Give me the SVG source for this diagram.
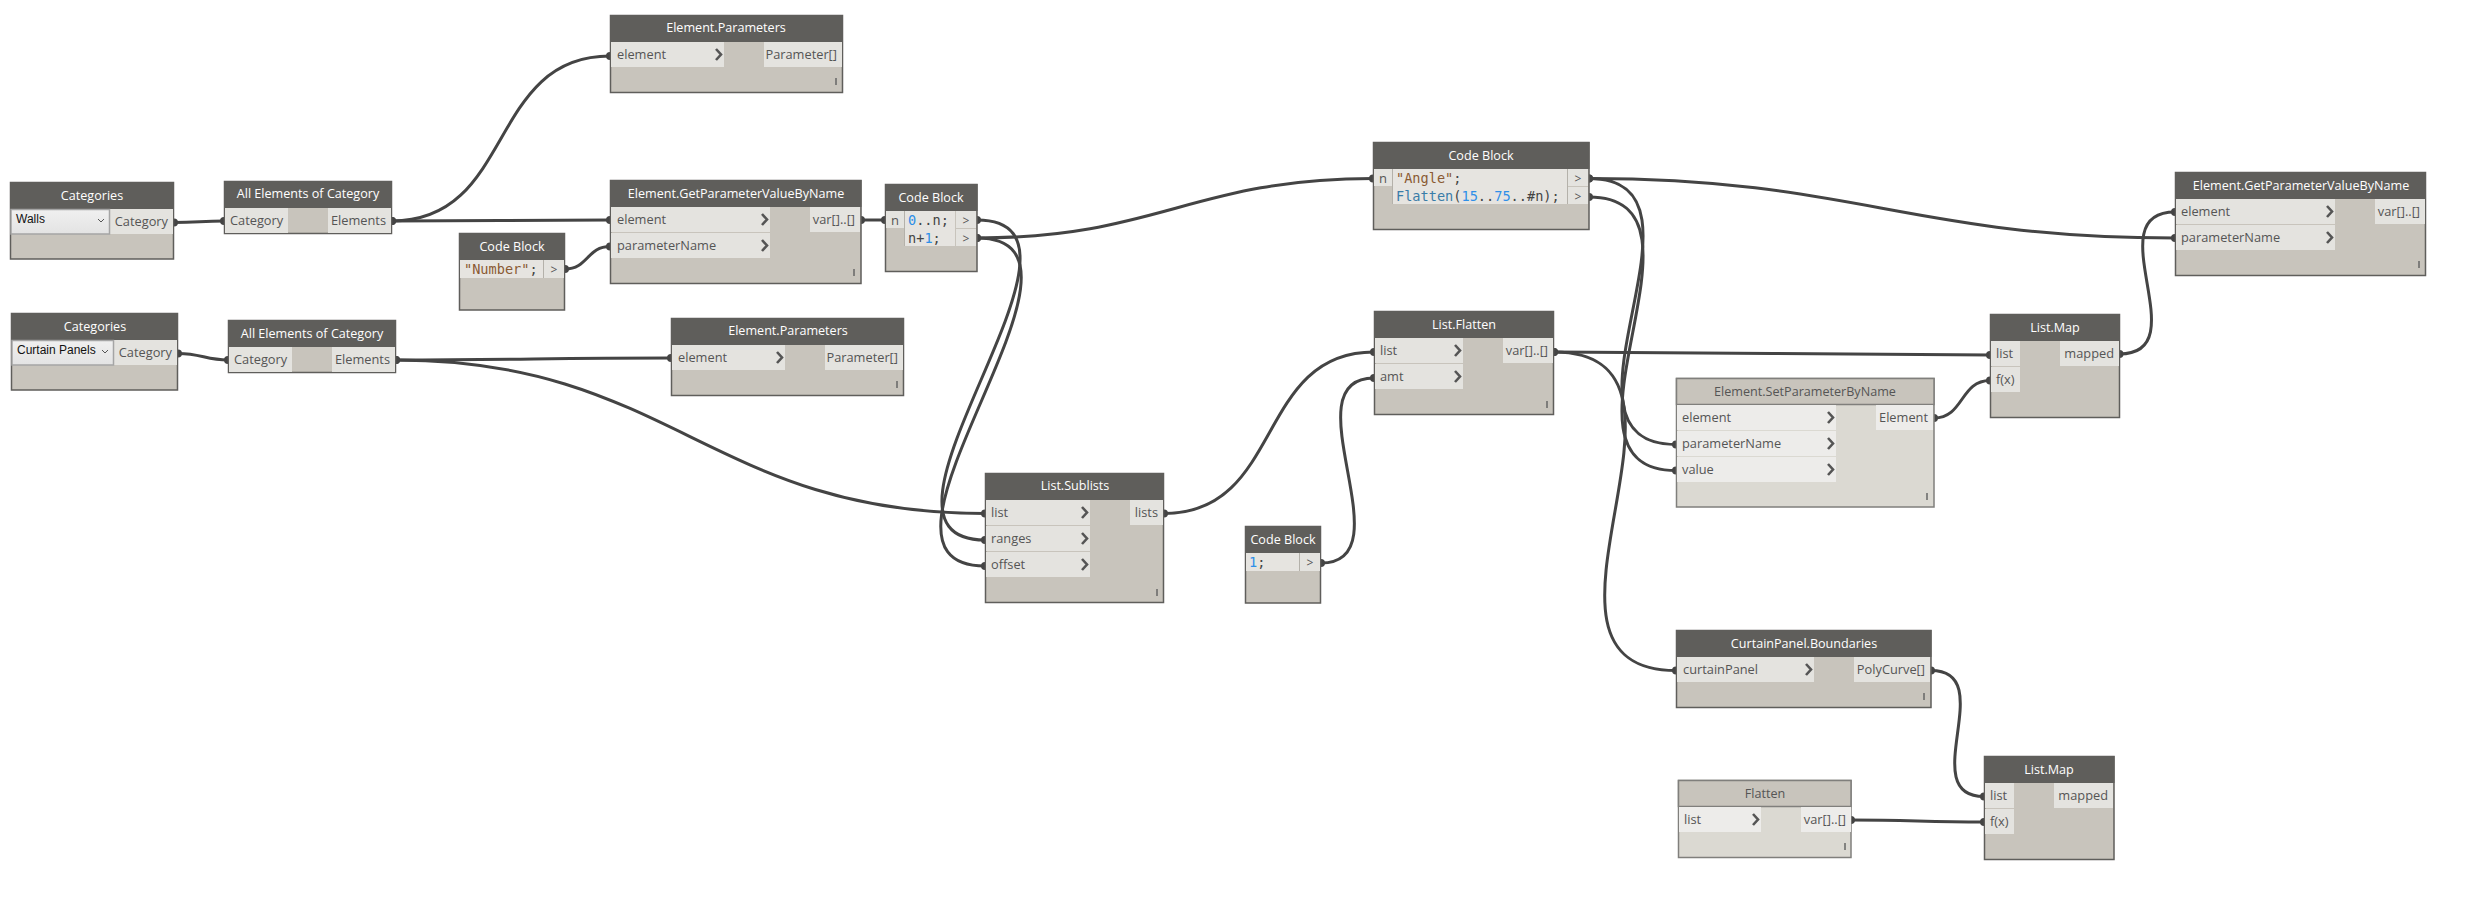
<svg xmlns="http://www.w3.org/2000/svg" width="2488" height="898" viewBox="0 0 2488 898">
<style>
text{font-family:"Open Sans","Noto Sans","Liberation Sans",sans-serif;font-size:12.8px;fill:#555}
.b{fill:#c8c4bc;stroke:#5f5e5b;stroke-width:1.5}
.bf{fill:#dbd9d2;stroke:#807f7c;stroke-width:1.5}
.h{fill:#5f5e5b}
.hf{fill:#c8c4bc;stroke:#807f7c;stroke-width:1.5}
text.t{fill:#fff;text-anchor:middle;font-weight:500;font-size:12.6px}
text.tf{fill:#555;text-anchor:middle;font-weight:500;font-size:12.6px}
.p{fill:#e4e3df}
.pf{fill:#edecea}
.cd{fill:#e6e4e0}
.m{stroke:#666;stroke-width:1.5;fill:none}
.ch{stroke:#555;stroke-width:2.6;fill:none}
.sep{stroke:#b4b1aa;stroke-width:1;fill:none}
text.c{font-family:"DejaVu Sans Mono","Liberation Mono",monospace;font-size:13.6px;fill:#444}
.s{fill:#8a5a33}.n{fill:#2f8fe8}.f{fill:#3a7ca8}
.w{fill:none;stroke:#444;stroke-width:3;marker-start:url(#dot);marker-end:url(#dot)}
.o{text-anchor:end}
text.g{text-anchor:middle;font-size:12px}
.dd{fill:url(#dg);stroke:#a5a5a5;stroke-width:1.5}
text.v{fill:#111;font-family:"Liberation Sans",sans-serif;font-size:12px}
</style>
<defs>
<marker id="dot" markerUnits="userSpaceOnUse" markerWidth="10" markerHeight="10" refX="5" refY="5"><circle cx="5" cy="5" r="4" fill="#444"/></marker>
<linearGradient id="dg" x1="0" y1="0" x2="0" y2="1"><stop offset="0" stop-color="#f0f0f0"/><stop offset="1" stop-color="#e3e3e3"/></linearGradient>
</defs>
<g id="connectors">
<path class="w" d="M174,222.5 C197,222.5 202,221 224,221"/>
<path class="w" d="M392,221 C515,221 487,56 610,56"/>
<path class="w" d="M392,221 C490,221 512,220 610,220"/>
<path class="w" d="M565,269 C588,269 587,246.5 610,246.5"/>
<path class="w" d="M861,220 L885,220"/>
<path class="w" d="M178,353.5 C201,353.5 206,360 228,360"/>
<path class="w" d="M396,360 C520,360 547,358 671,358"/>
<path class="w" d="M396,360 C670,360 710,513.5 985,513.5"/>
<path class="w" d="M977,220 C1123,220 839,540 985,540"/>
<path class="w" d="M977,238 C1127,238 835,566 985,566"/>
<path class="w" d="M977,238 C1158,238 1193,178.5 1373,178.5"/>
<path class="w" d="M1164,513.5 C1284,513.5 1255,352 1374,352"/>
<path class="w" d="M1321,563 C1408,563 1287,378 1374,378"/>
<path class="w" d="M1589,178.5 C1854,178.5 1910,238 2175,238"/>
<path class="w" d="M1589,178.5 C1729,178.5 1536,444.5 1676,444.5"/>
<path class="w" d="M1589,197 C1729,197 1536,470.5 1676,470.5"/>
<path class="w" d="M1554,352 C1750,352 1794,355 1990,355"/>
<path class="w" d="M1554,352 C1732,352 1498,670.5 1676,670.5"/>
<path class="w" d="M1934,418 C1964,418 1960,380.5 1990,380.5"/>
<path class="w" d="M2119.5,354 C2199,354 2095,212 2175,212"/>
<path class="w" d="M1931,670.5 C2001,670.5 1914,796.5 1984,796.5"/>
<path class="w" d="M1851,820 C1911,820 1924,822 1984,822"/>
</g>
<g id="categories-walls">
<rect class="b" x="10.5" y="182.5" width="163" height="76.5"/><rect class="h" x="10" y="182" width="164" height="27"/>
<text class="t" x="92" y="200">Categories</text>
<rect class="p" x="110" y="209" width="63" height="25"/><rect class="dd" x="11" y="209.5" width="98.5" height="24.5"/>
<text class="v" x="16" y="223">Walls</text><path class="sep" style="stroke:#555" d="M98,219 l3,3 l3,-3"/>
<text class="o" x="168" y="226">Category</text>
</g>
<g id="all-elements-walls">
<rect class="b" x="224.5" y="181.5" width="167" height="52"/><rect class="h" x="224" y="181" width="168" height="27"/>
<text class="t" x="308" y="198">All Elements of Category</text>
<rect class="p" x="225" y="208" width="63" height="25"/><rect class="p" x="328" y="208" width="63" height="25"/>
<text x="230" y="225">Category</text><text class="o" x="386" y="225">Elements</text>
</g>
<g id="categories-curtain">
<rect class="b" x="11.5" y="313.5" width="166" height="76.5"/><rect class="h" x="11" y="313" width="167" height="27"/>
<text class="t" x="95" y="331">Categories</text>
<rect class="p" x="114" y="340" width="63" height="25"/><rect class="dd" x="12" y="340.5" width="101.5" height="24.5"/>
<text class="v" x="17" y="354">Curtain Panels</text><path class="sep" style="stroke:#555" d="M102,350 l3,3 l3,-3"/>
<text class="o" x="172" y="357">Category</text>
</g>
<g id="all-elements-curtain">
<rect class="b" x="228.5" y="320.5" width="167" height="52"/><rect class="h" x="228" y="320" width="168" height="27"/>
<text class="t" x="312" y="338">All Elements of Category</text>
<rect class="p" x="229" y="347" width="63" height="25"/><rect class="p" x="332" y="347" width="63" height="25"/>
<text x="234" y="364">Category</text><text class="o" x="390" y="364">Elements</text>
</g>
<g id="element-parameters-1">
<rect class="b" x="610.5" y="15.5" width="232" height="77"/><rect class="h" x="610" y="15" width="233" height="27"/>
<text class="t" x="726" y="32">Element.Parameters</text>
<rect class="p" x="611" y="42" width="113" height="25"/><rect class="p" x="764" y="42" width="78" height="25"/>
<text x="617" y="59">element</text><path class="ch" d="M716,49 l5,5.5 l-5,5.5"/><text class="o" x="837" y="59">Parameter[]</text>
<path class="m" d="M836,78 v7"/>
</g>
<g id="get-parameter-1">
<rect class="b" x="610.5" y="180.5" width="250.5" height="103"/><rect class="h" x="610" y="180" width="251.5" height="27"/>
<text class="t" x="736" y="198">Element.GetParameterValueByName</text>
<rect class="p" x="611" y="207" width="159" height="25"/><rect class="p" x="611" y="233" width="159" height="25"/><rect class="p" x="810" y="207" width="50" height="25"/>
<text x="617" y="224">element</text><path class="ch" d="M762,214 l5,5.5 l-5,5.5"/>
<text x="617" y="250">parameterName</text><path class="ch" d="M762,240 l5,5.5 l-5,5.5"/>
<text class="o" x="855" y="224">var[]..[]</text>
<path class="m" d="M854,269 v7"/>
</g>
<g id="code-number">
<rect class="b" x="459.5" y="233.5" width="105" height="76.5"/><rect class="h" x="459" y="233" width="106" height="27"/>
<text class="t" x="512" y="251">Code Block</text>
<rect class="cd" x="460" y="260" width="83" height="18"/><rect class="p" x="544" y="260" width="20" height="18"/>
<path class="sep" d="M543.5,260 v18"/>
<text class="c" x="464" y="274"><tspan class="s">"Number"</tspan>;</text><text class="g" x="554" y="274">&gt;</text>
</g>
<g id="code-range">
<rect class="b" x="885.5" y="184.5" width="91.5" height="87"/><rect class="h" x="885" y="184" width="92.5" height="27"/>
<text class="t" x="931" y="202">Code Block</text>
<rect class="p" x="886" y="211" width="18" height="17"/><rect class="cd" x="905" y="211" width="50" height="35"/>
<rect class="p" x="956" y="211" width="20" height="17"/><rect class="p" x="956" y="229" width="20" height="17"/>
<path class="sep" d="M904.5,211 v35"/>
<text class="g" x="895" y="225" style="font-size:13px">n</text>
<text class="c" x="908" y="225"><tspan class="n">0</tspan>..n;</text>
<text class="c" x="908" y="243">n+<tspan class="n">1</tspan>;</text>
<text class="g" x="966" y="225">&gt;</text><text class="g" x="966" y="243">&gt;</text>
</g>
<g id="element-parameters-2">
<rect class="b" x="671.5" y="318.5" width="232" height="77"/><rect class="h" x="671" y="318" width="233" height="27"/>
<text class="t" x="788" y="335">Element.Parameters</text>
<rect class="p" x="672" y="345" width="113" height="25"/><rect class="p" x="825" y="345" width="78" height="25"/>
<text x="678" y="362">element</text><path class="ch" d="M777,352 l5,5.5 l-5,5.5"/><text class="o" x="898" y="362">Parameter[]</text>
<path class="m" d="M897,381 v7"/>
</g>
<g id="list-sublists">
<rect class="b" x="985.5" y="473.5" width="178" height="129"/><rect class="h" x="985" y="473" width="179" height="27"/>
<text class="t" x="1075" y="490">List.Sublists</text>
<rect class="p" x="986" y="500" width="104" height="25"/><rect class="p" x="986" y="526" width="104" height="25"/><rect class="p" x="986" y="552" width="104" height="25"/><rect class="p" x="1130" y="500" width="33" height="25"/>
<text x="991" y="517">list</text><path class="ch" d="M1082,507 l5,5.5 l-5,5.5"/>
<text x="991" y="543">ranges</text><path class="ch" d="M1082,533 l5,5.5 l-5,5.5"/>
<text x="991" y="569">offset</text><path class="ch" d="M1082,559 l5,5.5 l-5,5.5"/>
<text class="o" x="1158" y="517">lists</text>
<path class="m" d="M1157,589 v7"/>
</g>
<g id="code-one">
<rect class="b" x="1245.5" y="526.5" width="75" height="76.5"/><rect class="h" x="1245" y="526" width="76" height="27"/>
<text class="t" x="1283" y="544">Code Block</text>
<rect class="cd" x="1246" y="553" width="53" height="18"/><rect class="p" x="1300" y="553" width="20" height="18"/>
<path class="sep" d="M1299.5,553 v18"/>
<text class="c" x="1249" y="567"><tspan class="n">1</tspan>;</text><text class="g" x="1310" y="567">&gt;</text>
</g>
<g id="code-flatten">
<rect class="b" x="1373.5" y="142.5" width="215.5" height="87"/><rect class="h" x="1373" y="142" width="216.5" height="27"/>
<text class="t" x="1481" y="160">Code Block</text>
<rect class="p" x="1374" y="169" width="18" height="17"/><rect class="cd" x="1393" y="169" width="174" height="35"/>
<rect class="p" x="1568" y="169" width="20" height="17"/><rect class="p" x="1568" y="187" width="20" height="17"/>
<path class="sep" d="M1392.5,169 v35 M1567.5,169 v35"/>
<text class="g" x="1383" y="183" style="font-size:13px">n</text>
<text class="c" x="1396" y="183"><tspan class="s">"Angle"</tspan>;</text>
<text class="c" x="1396" y="201"><tspan class="f">Flatten</tspan>(<tspan class="n">15</tspan>..<tspan class="n">75</tspan>..#n);</text>
<text class="g" x="1578" y="183">&gt;</text><text class="g" x="1578" y="201">&gt;</text>
</g>
<g id="list-flatten">
<rect class="b" x="1374.5" y="311.5" width="179" height="103"/><rect class="h" x="1374" y="311" width="180" height="27"/>
<text class="t" x="1464" y="329">List.Flatten</text>
<rect class="p" x="1375" y="338" width="88" height="25"/><rect class="p" x="1375" y="364" width="88" height="25"/><rect class="p" x="1503" y="338" width="50" height="25"/>
<text x="1380" y="355">list</text><path class="ch" d="M1455,345 l5,5.5 l-5,5.5"/>
<text x="1380" y="381">amt</text><path class="ch" d="M1455,371 l5,5.5 l-5,5.5"/>
<text class="o" x="1548" y="355">var[]..[]</text>
<path class="m" d="M1547,401 v7"/>
</g>
<g id="set-parameter">
<rect class="bf" x="1676.5" y="378.5" width="257.5" height="128.5"/><rect class="hf" x="1676.5" y="378.5" width="257.5" height="26"/>
<text class="tf" x="1805" y="396">Element.SetParameterByName</text>
<rect class="pf" x="1677" y="405" width="159" height="25"/><rect class="pf" x="1677" y="431" width="159" height="25"/><rect class="pf" x="1677" y="457" width="159" height="25"/><rect class="pf" x="1876" y="405" width="57" height="25"/>
<text x="1682" y="422">element</text><path class="ch" d="M1828,412 l5,5.5 l-5,5.5"/>
<text x="1682" y="448">parameterName</text><path class="ch" d="M1828,438 l5,5.5 l-5,5.5"/>
<text x="1682" y="474">value</text><path class="ch" d="M1828,464 l5,5.5 l-5,5.5"/>
<text class="o" x="1928" y="422">Element</text>
<path class="m" d="M1927,493 v7"/>
</g>
<g id="list-map-1">
<rect class="b" x="1990.5" y="314.5" width="129" height="103"/><rect class="h" x="1990" y="314" width="130" height="27"/>
<text class="t" x="2055" y="332">List.Map</text>
<rect class="p" x="1991" y="341" width="29" height="25"/><rect class="p" x="1991" y="367" width="29" height="25"/><rect class="p" x="2060" y="341" width="59" height="25"/>
<text x="1996" y="358">list</text><text x="1996" y="384">f(x)</text><text class="o" x="2114" y="358">mapped</text>
</g>
<g id="get-parameter-2">
<rect class="b" x="2175.5" y="172.5" width="250" height="103"/><rect class="h" x="2175" y="172" width="251" height="27"/>
<text class="t" x="2301" y="190">Element.GetParameterValueByName</text>
<rect class="p" x="2176" y="199" width="159" height="25"/><rect class="p" x="2176" y="225" width="159" height="25"/><rect class="p" x="2375" y="199" width="50" height="25"/>
<text x="2181" y="216">element</text><path class="ch" d="M2327,206 l5,5.5 l-5,5.5"/>
<text x="2181" y="242">parameterName</text><path class="ch" d="M2327,232 l5,5.5 l-5,5.5"/>
<text class="o" x="2420" y="216">var[]..[]</text>
<path class="m" d="M2419,261 v7"/>
</g>
<g id="curtain-boundaries">
<rect class="b" x="1676.5" y="630.5" width="254.5" height="77"/><rect class="h" x="1676" y="630" width="255.5" height="27"/>
<text class="t" x="1804" y="648">CurtainPanel.Boundaries</text>
<rect class="p" x="1677" y="657" width="137" height="25"/><rect class="p" x="1854" y="657" width="76" height="25"/>
<text x="1683" y="674">curtainPanel</text><path class="ch" d="M1806,664 l5,5.5 l-5,5.5"/><text class="o" x="1925" y="674">PolyCurve[]</text>
<path class="m" d="M1924,693 v7"/>
</g>
<g id="flatten">
<rect class="bf" x="1678.5" y="780.5" width="172.5" height="77"/><rect class="hf" x="1678.5" y="780.5" width="172.5" height="26"/>
<text class="tf" x="1765" y="798">Flatten</text>
<rect class="pf" x="1679" y="807" width="82" height="25"/><rect class="pf" x="1801" y="807" width="50" height="25"/>
<text x="1684" y="824">list</text><path class="ch" d="M1753,814 l5,5.5 l-5,5.5"/><text class="o" x="1846" y="824">var[]..[]</text>
<path class="m" d="M1845,843 v7"/>
</g>
<g id="list-map-2">
<rect class="b" x="1984.5" y="756.5" width="129.5" height="103"/><rect class="h" x="1984" y="756" width="130.5" height="27"/>
<text class="t" x="2049" y="774">List.Map</text>
<rect class="p" x="1985" y="783" width="29" height="25"/><rect class="p" x="1985" y="809" width="29" height="25"/><rect class="p" x="2054" y="783" width="59" height="25"/>
<text x="1990" y="800">list</text><text x="1990" y="826">f(x)</text><text class="o" x="2108" y="800">mapped</text>
</g>
</svg>
